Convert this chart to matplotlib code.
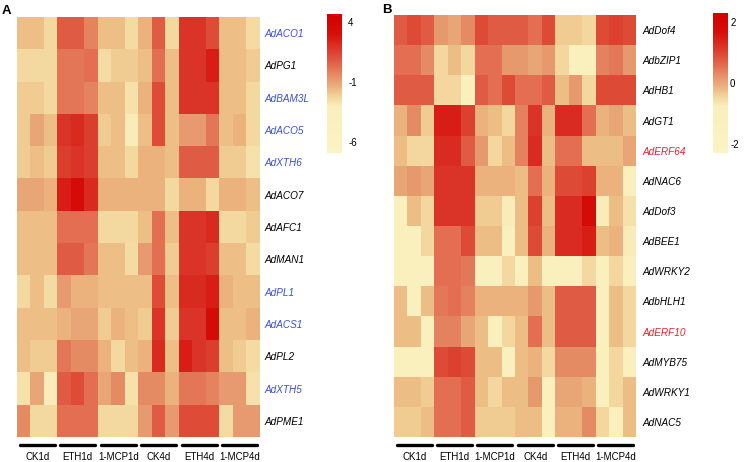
import numpy as np
import matplotlib
matplotlib.use("Agg")
from matplotlib import pyplot as plt
from matplotlib.colors import LinearSegmentedColormap

plt.rcParams['font.family'] = ['Liberation Sans', 'DejaVu Sans']
plt.rcParams['axes.unicode_minus'] = False

# sample groups (3 replicates each)
groups = ["CK1d", "ETH1d", "1-MCP1d", "CK4d", "ETH4d", "1-MCP4d"]

# panel A : cell wall / ethylene genes
genes_a = ["AdACO1", "AdPG1", "AdBAM3L", "AdACO5", "AdXTH6", "AdACO7", "AdAFC1",
           "AdMAN1", "AdPL1", "AdACS1", "AdPL2", "AdXTH5", "AdPME1"]
blue_a = ["AdACO1", "AdBAM3L", "AdACO5", "AdXTH6", "AdPL1", "AdACS1", "AdXTH5"]
vals_a = [
    [-1.7, -1.7, -2.3, 0.8, 0.8, -0.2, -1.7, -1.7, -2.4, -1.4, 0.8, -2.3, 1.9, 1.9, 1.2, -1.7, -1.7, -2.4],
    [-2.3, -2.3, -2.3, 0.1, 0.1, 0.3, -2.4, -2.0, -2.0, -1.7, 0.3, -1.7, 1.9, 1.9, 2.6, -1.7, -1.7, -2.0],
    [-2.0, -2.0, -2.3, 0.1, 0.1, -0.2, -1.7, -1.7, -2.6, -1.4, 1.2, -1.7, 1.9, 1.9, 1.9, -1.7, -1.7, -2.3],
    [-2.0, -1.1, -1.7, 1.9, 2.2, 1.6, -2.0, -1.7, -3.0, -1.7, 1.2, -1.7, -0.8, -0.8, 0.1, -1.7, -1.4, -2.3],
    [-2.0, -1.7, -2.0, 1.6, 1.9, 1.6, -1.7, -1.7, -2.3, -1.4, -1.4, -1.7, 0.8, 0.8, 0.8, -2.0, -2.0, -2.6],
    [-1.1, -1.1, -1.4, 2.6, 3.3, 2.2, -1.4, -1.4, -1.4, -1.4, -1.4, -2.3, -1.4, -1.4, -2.3, -1.4, -1.4, -1.7],
    [-1.7, -1.7, -1.7, 0.3, 0.3, 0.3, -2.3, -2.3, -2.3, -1.7, 0.3, -1.7, 1.9, 1.9, 2.2, -2.3, -2.3, -2.0],
    [-1.7, -1.7, -1.7, 0.8, 0.8, 0.1, -1.7, -1.7, -2.4, -0.8, 0.3, -2.0, 1.9, 1.9, 1.6, -1.7, -1.7, -2.4],
    [-2.3, -1.7, -2.4, -0.8, -1.4, -1.4, -1.7, -1.7, -1.7, -1.7, 1.2, -1.7, 2.2, 2.2, 2.6, -1.4, -1.7, -1.7],
    [-1.7, -1.7, -1.7, -1.4, -1.1, -1.1, -2.0, -1.4, -1.7, -2.0, 1.9, -2.0, 1.9, 1.9, 3.3, -1.7, -1.7, -1.4],
    [-1.7, -2.0, -2.0, 0.1, -0.4, -0.4, -1.4, -2.3, -1.7, -1.4, 2.2, -1.7, 2.6, 1.9, 1.6, -1.7, -2.0, -2.4],
    [-2.6, -1.1, -3.0, 0.8, 1.2, 0.3, -1.1, -0.4, -2.6, -0.4, -0.4, -1.4, 0.1, 0.1, -0.2, -0.8, -0.8, -2.6],
    [-0.4, -2.3, -2.3, 0.3, 0.3, 0.3, -2.3, -2.3, -2.3, -0.8, 0.8, -0.8, 1.2, 1.2, 1.2, -2.4, -0.8, -0.8],
]
ticks_a = [4, -1, -6]

# panel B : transcription factors
genes_b = ["AdDof4", "AdbZIP1", "AdHB1", "AdGT1", "AdERF64", "AdNAC6", "AdDof3",
           "AdBEE1", "AdWRKY2", "AdbHLH1", "AdERF10", "AdMYB75", "AdWRKY1", "AdNAC5"]
red_b = ["AdERF64", "AdERF10"]
vals_b = [
    [0.74, 0.92, 0.74, 0.14, 0.0, 0.28, 0.92, 0.74, 0.74, 0.74, 0.55, 0.92, -0.35, -0.35, -0.45, 0.92, 1.06, 0.92],
    [0.55, 0.55, 0.28, -0.45, -0.23, -0.45, 0.55, 0.55, 0.14, 0.14, 0.0, 0.14, -0.45, -1.2, -1.2, 0.37, 0.46, 0.14],
    [0.74, 0.74, 0.74, -0.45, -0.45, -1.2, 0.74, 0.55, 0.92, 0.55, 0.55, 0.74, -0.23, 0.14, -0.45, 0.92, 0.92, 0.92],
    [-0.12, 0.28, -0.35, 1.47, 1.47, 1.06, -0.12, -0.23, -0.45, 0.37, 1.2, -0.12, 1.29, 1.29, 0.55, -0.12, 0.0, -0.23],
    [-0.23, -0.45, -0.45, 1.29, 1.29, 0.74, 0.14, -0.45, -0.23, 0.37, 1.29, -0.23, 0.55, 0.55, -0.23, -0.23, -0.23, 0.0],
    [0.0, 0.14, 0.0, 1.2, 1.2, 1.2, -0.12, -0.12, -0.12, -0.23, 0.55, -0.12, 0.92, 0.92, 1.06, -0.12, -0.12, -1.2],
    [-1.2, -0.23, -0.45, 1.2, 1.2, 1.2, -0.35, -0.35, -0.74, -0.23, 1.06, -0.23, 1.29, 1.29, 1.75, -0.74, -0.23, -0.6],
    [-1.2, -1.2, -0.45, 0.55, 0.55, 0.92, -0.23, -0.23, -1.2, -0.23, 0.92, -0.12, 1.29, 1.29, 1.47, -0.23, -0.12, -0.74],
    [-1.2, -1.2, -1.2, 0.55, 0.55, 0.46, -1.2, -1.2, -0.5, -1.2, -0.23, -1.2, -1.2, -1.2, -0.5, -1.2, -0.45, -1.2],
    [-0.23, -1.2, -0.23, 0.46, 0.55, 0.37, -0.12, -0.12, -0.12, -0.12, 0.14, -0.23, 0.74, 0.74, 0.74, -1.2, -0.23, -0.45],
    [-0.23, -0.23, -1.2, 0.37, 0.37, 0.0, -0.23, -1.2, -0.45, -0.23, 0.55, -0.23, 0.74, 0.74, 0.74, -1.2, -0.23, -0.45],
    [-1.2, -1.2, -1.2, 0.92, 1.06, 0.92, -0.23, -0.23, -1.2, -0.23, -0.12, -0.5, 0.28, 0.28, 0.28, -1.2, -0.45, -1.2],
    [-0.23, -0.23, -0.35, 0.55, 0.55, 0.74, -0.23, -0.45, -0.23, -0.23, 0.14, -1.2, 0.0, 0.0, -0.12, -1.2, -0.45, -0.23],
    [-0.35, -0.35, -0.23, 0.55, 0.55, 0.74, -0.35, -0.35, -0.35, -0.23, -0.23, -1.2, -0.12, -0.12, 0.28, -0.45, -1.2, -0.23],
]
ticks_b = [2, 0, -2]

cmap = LinearSegmentedColormap.from_list("heat", [
    (0.0, '#FBF3C4'), (0.33, '#FAEFBC'), (0.40, '#F3D79E'), (0.45, '#EDBE86'),
    (0.50, '#E9A677'), (0.56, '#E68C65'), (0.62, '#E36E52'), (0.70, '#DE4C38'),
    (0.78, '#DA2C22'), (0.86, '#D60E0A'), (1.0, '#D20000')])

W, H = 744, 462
fig = plt.figure(figsize=(W / 100, H / 100), dpi=100)

def px(l, t, r, b):
    return [l / W, 1 - b / H, (r - l) / W, (b - t) / H]

def panel(vals, genes, colored, ccol, vlim, ticks, box, cbox, letter, lpos, gpad, cpad):
    data = np.array(vals)
    ax = fig.add_axes(px(*box))
    im = ax.imshow(data, cmap=cmap, vmin=vlim[0], vmax=vlim[1],
                   aspect='auto', interpolation='nearest')
    ax.yaxis.tick_right()
    ax.set_yticks(range(len(genes)))
    ax.set_yticklabels(genes, fontsize=7.2, style='italic')
    for lab in ax.get_yticklabels():
        if lab.get_text() in colored:
            lab.set_color(ccol)
    ax.tick_params(axis='y', length=0, pad=gpad)
    ax.set_xticks([])
    for s in ax.spines.values():
        s.set_visible(False)
    tr = ax.get_xaxis_transform()
    for g, name in enumerate(groups):
        ax.plot([3 * g - 0.3, 3 * g + 2.3], [-0.018, -0.018], transform=tr,
                color='black', lw=2.4, solid_capstyle='round', clip_on=False)
        ax.text(3 * g + 1, -0.036, name, transform=tr, ha='center', va='top', fontsize=7)
    cax = fig.add_axes(px(*cbox))
    cb = fig.colorbar(im, cax=cax, ticks=ticks)
    cb.outline.set_visible(False)
    cb.ax.tick_params(length=0, labelsize=7, pad=cpad)
    fig.text(lpos[0] / W, 1 - lpos[1] / H, letter, fontsize=9.5, fontweight='bold',
             ha='left', va='center')

panel(vals_a, genes_a, blue_a, '#3B4FD6', (-6.9, 4.7), ticks_a,
      (17, 17, 260, 437), (327, 14, 342, 153), "A", (2, 11), 3.5, 4.5)
panel(vals_b, genes_b, red_b, '#E0242C', (-2.3, 2.3), ticks_b,
      (394, 15, 636, 437), (713, 13, 728, 153), "B", (382, 10), 5, 1.5)

fig.savefig("out.png", dpi=100)
